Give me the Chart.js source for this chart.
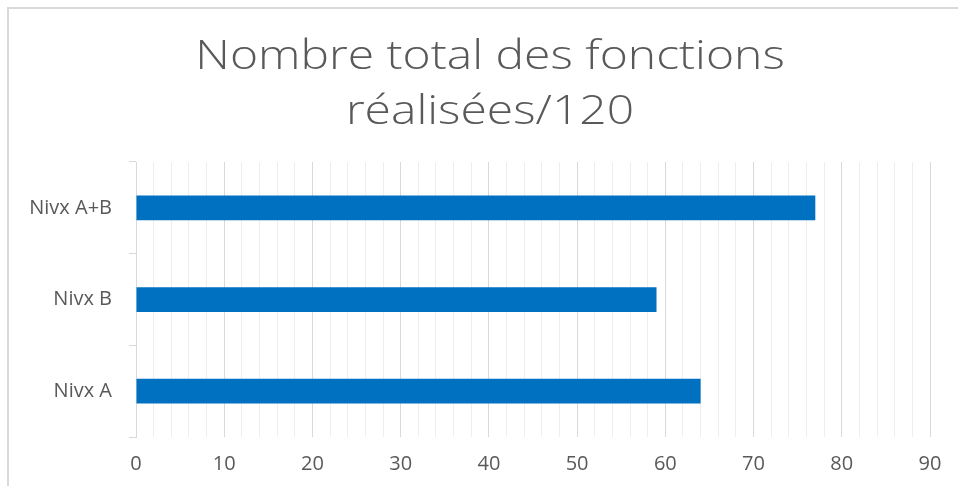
<!DOCTYPE html>
<html>
<head>
<meta charset="utf-8">
<script src="https://cdn.jsdelivr.net/npm/chart.js@4/dist/chart.umd.min.js"></script>
<style>
    html, body { margin: 0; padding: 0; background: #fff; }
    #wrap { position: relative; width: 958px; height: 486px; }
    #frame {
        position: absolute; left: 7px; top: 7px; right: -2px; bottom: -2px;
        border-left: 2px solid #d9d9d9; border-top: 2px solid #d9d9d9;
        pointer-events: none;
    }
</style>
</head>
<body>
<div id="wrap">
    <canvas id="chart" width="958" height="486"></canvas>
    <div id="frame"></div>
</div>
<script>
(function() {
    'use strict';

    // ===== Data =====
    const categories = ['Nivx A+B', 'Nivx B', 'Nivx A'];
    const values = [77, 59, 64];
    const titleLines = ['Nombre total des fonctions', 'réalisées/120'];
    const xMin = 0;
    const xMax = 90;
    const xLabelStep = 10;
    const xGridStep = 2;

    const textColor = '#595959';
    const font = '"Open Sans", "Liberation Sans", sans-serif';

    // title: the original picture is stretched sideways, so widen the glyphs a bit
    const titleTweak = {
        id: 'titleTweak',
        afterLayout(chart) {
            const tb = chart.titleBlock;
            if (!tb) return;
            tb.left = 50;
            if (!tb._wrapped) {
                const orig = tb.draw.bind(tb);
                tb.draw = function() {
                    const c = chart.ctx;
                    const cx = (tb.left + tb.right) / 2;
                    c.save();
                    c.translate(cx, 0);
                    c.scale(1.2, 1);
                    c.translate(-cx, 0);
                    orig();
                    c.restore();
                };
                tb._wrapped = true;
            }
        }
    };

    const ctx = document.getElementById('chart').getContext('2d');
    new Chart(ctx, {
        type: 'bar',
        data: {
            labels: categories,
            datasets: [{
                data: values,
                backgroundColor: '#0070C0',
                borderWidth: 0,
                categoryPercentage: 1,
                barPercentage: 0.27
            }]
        },
        plugins: [titleTweak],
        options: {
            indexAxis: 'y',
            responsive: false,
            animation: false,
            layout: { padding: { left: 0, right: 28, top: 0, bottom: 0 } },
            plugins: {
                legend: { display: false },
                tooltip: { enabled: false },
                title: {
                    display: true,
                    text: titleLines,
                    color: textColor,
                    font: { family: font, size: 40, weight: '300', lineHeight: 1.375 },
                    padding: { top: 30, bottom: 22 }
                }
            },
            scales: {
                x: {
                    min: xMin,
                    max: xMax,
                    border: { display: false },
                    grid: {
                        drawTicks: false,
                        lineWidth: 1,
                        color: c => (c.tick && c.tick.value % xLabelStep === 0) ? '#d9d9d9' : '#eeeeee'
                    },
                    ticks: {
                        stepSize: xGridStep,
                        autoSkip: false,
                        maxRotation: 0,
                        padding: 15,
                        color: textColor,
                        font: { family: font, size: 20 },
                        callback: v => (v % xLabelStep === 0 ? String(v) : '')
                    },
                    afterFit: s => { s.height = 49; }
                },
                y: {
                    border: { display: true, color: '#d9d9d9', width: 1 },
                    grid: {
                        offset: true,
                        drawOnChartArea: false,
                        tickLength: 7,
                        color: '#d9d9d9'
                    },
                    ticks: {
                        padding: 17,
                        color: textColor,
                        font: { family: font, size: 20 }
                    },
                    afterFit: s => { s.width = 136; }
                }
            }
        }
    });
})();
</script>
</body>
</html>
